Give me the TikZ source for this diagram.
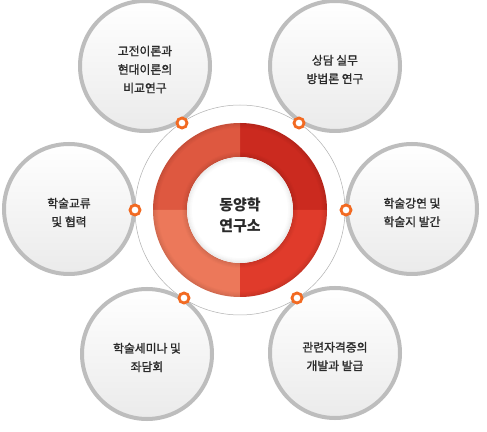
\documentclass[tikz,border=0pt]{standalone}
\usepackage{fontspec}
\setmainfont{Noto Sans CJK KR}
\newfontfamily\medfont[FakeBold=1.3]{Noto Sans CJK KR}
\definecolor{ringgrey}{HTML}{BDBDBD}
\definecolor{textdark}{HTML}{2A2A2A}
\definecolor{dotorange}{HTML}{F26A22}
\definecolor{qtr}{HTML}{CB2A1F}
\definecolor{qtl}{HTML}{DE5840}
\definecolor{qbl}{HTML}{EC785A}
\definecolor{qbr}{HTML}{E03B2B}
\tikzset{
  outer/.style={circle, draw=ringgrey, line width=4pt, minimum size=130pt,
    top color=white, bottom color=black!8, inner sep=0pt},
  otext/.style={text=textdark, align=center, inner sep=0pt,
    font=\medfont\fontsize{11.8}{18.5}\selectfont, yshift=-3.5pt},
  odot/.style={circle, draw=dotorange, line width=2.8pt, fill=white,
    minimum size=10pt, inner sep=0pt},
  centre/.style={align=center, text=textdark, font=\fontsize{15}{21}\selectfont\bfseries}
}
\begin{document}
\begin{tikzpicture}[x=1pt,y=1pt]
\useasboundingbox (0,0) rectangle (487,431);
\fill[white] (0,0) rectangle (487,431);
\coordinate (C) at (240,221);
% thin guide circle
\draw[black!30, line width=0.5pt] (C) circle[radius=105pt];
% donut quadrants
\foreach \s/\e/\col in {0/90/qtr, 90/180/qtl, 180/270/qbl, 270/360/qbr}{
  \fill[\col] ([shift={(\s:87pt)}]C) arc[start angle=\s, end angle=\e, radius=87pt]
    -- ([shift={(\e:53pt)}]C) arc[start angle=\e, end angle=\s, radius=53pt] -- cycle;
}
% soft edge shading of donut
\foreach \i/\o in {0/0.10,1/0.07,2/0.05,3/0.03,4/0.015}{
  \draw[black, opacity=\o, line width=1pt] (C) circle[radius=86.5pt-\i pt];
  \draw[black, opacity=\o, line width=1pt] (C) circle[radius=53.5pt+\i pt];
}
% inner white disc with soft inner shadow
\fill[white] (C) circle[radius=53pt];
\foreach \i/\o in {0/0.07,1/0.05,2/0.035,3/0.02,4/0.01}{
  \draw[black, opacity=\o, line width=1pt] (C) circle[radius=52.5pt-\i pt];
}
\node[centre] (hub) at (240,216) {동양학\\연구소};
% outer circles
\node[outer] (c1) at (145,365) {};
\node[outer] (c2) at (335,365) {};
\node[outer] (c3) at (69,222) {};
\node[outer] (c4) at (412,222) {};
\node[outer] (c5) at (147,77) {};
\node[outer] (c6) at (335,78) {};
\node[otext] (t1) at (c1.center) {고전이론과\\현대이론의\\비교연구};
\node[otext] (t2) at (c2.center) {상담 실무\\방법론 연구};
\node[otext] (t3) at (c3.center) {학술교류\\및 협력};
\node[otext] (t4) at (c4.center) {학술강연 및\\학술지 발간};
\node[otext] (t5) at (c5.center) {학술세미나 및\\좌담회};
\node[otext] (t6) at (c6.center) {관련자격증의\\개발과 발급};
% orange connection dots
\node[odot] (d1) at (182,308) {};
\node[odot] (d2) at (299,308) {};
\node[odot] (d3) at (135,221) {};
\node[odot] (d4) at (346,221) {};
\node[odot] (d5) at (184,133) {};
\node[odot] (d6) at (297,133) {};
\end{tikzpicture}
\end{document}
